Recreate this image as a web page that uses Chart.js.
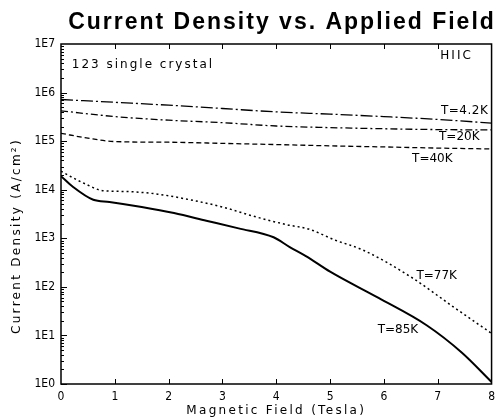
<!DOCTYPE html>
<html>
<head>
<meta charset="utf-8">
<script src="https://cdn.jsdelivr.net/npm/chart.js@4"></script>
<style>
  html, body { margin: 0; padding: 0; background: #fff; }
</style>
</head>
<body>
<canvas id="myChart" width="501" height="418"></canvas>
<script>
// magnetic field (tesla) and current density (A/cm2)
const field42 = [0, 1, 2, 3, 4, 5, 6, 7, 8];
const j42 = [7.2e5, 6.3e5, 5.5e5, 4.7e5, 4.0e5, 3.6e5, 3.2e5, 2.8e5, 2.35e5];

const field20 = [0, 1, 2, 3, 4, 5, 6, 7, 8];
const j20 = [4.2e5, 3.2e5, 2.7e5, 2.4e5, 2.05e5, 1.9e5, 1.8e5, 1.73e5, 1.7e5];

const field40 = [0, 0.5, 1, 2, 3, 4, 5, 6, 7, 8];
const j40 = [1.45e5, 1.15e5, 9.8e4, 9.5e4, 9.0e4, 8.5e4, 8.0e4, 7.6e4, 7.2e4, 6.9e4];

const field77 = [0, 0.4, 0.8, 1.2, 1.8, 2.4, 3.0, 3.6, 4.2, 4.6, 5.1, 5.6, 6.5, 7.3, 8];
const j77 = [2.4e4, 1.4e4, 9.5e3, 9.2e3, 8.1e3, 6.2e3, 4.4e3, 2.8e3, 1.9e3, 1.55e3, 910, 580, 160, 38, 11];

const field85 = [0, 0.22, 0.6, 0.9, 1.5, 2.1, 2.7, 3.3, 3.95, 4.25, 4.55, 5.0, 5.9, 6.8, 7.45, 8];
const j85 = [1.9e4, 1.15e4, 6.2e3, 5.6e3, 4.4e3, 3.3e3, 2.3e3, 1.6e3, 1.05e3, 660, 430, 205, 59, 16, 4.4, 1.1];

const decades = [1, 10, 100, 1e3, 1e4, 1e5, 1e6, 1e7];
const fieldTicks = [0, 1, 2, 3, 4, 5, 6, 7, 8];

// text written inside the plot: [text, field, density, align, letter spacing]
const notes = [
  ['123 single crystal', 0.2, 3.8e6, 'left', 2],
  ['HIIC', 7.35, 5.6e6, 'center', 2],
  ['T=4.2K', 7.5, 4.2e5, 'center', 0.5],
  ['T=20K', 7.4, 1.2e5, 'center', 0],
  ['T=40K', 6.9, 4.3e4, 'center', 0],
  ['T=77K', 6.98, 166, 'center', 0],
  ['T=85K', 6.26, 13, 'center', 0],
];

const pts = (xs, ys) => xs.map((v, i) => ({ x: v, y: ys[i] }));
const FONT = "'DejaVu Sans', sans-serif";
const TICKFONT = "'DejaVu Sans Condensed', 'DejaVu Sans', sans-serif";

const frameTicks = {
  id: 'frameTicks',
  afterDatasetsDraw(chart) {
    const { ctx, chartArea: a, scales: { x, y } } = chart;
    ctx.save();
    ctx.strokeStyle = '#000';
    ctx.lineWidth = 1.5;
    ctx.strokeRect(a.left, a.top, a.right - a.left, a.bottom - a.top);

    ctx.lineWidth = 1;
    ctx.beginPath();
    for (let k = 0; k < 7; k++) {
      for (let m = 1; m < 10; m++) {
        const py = Math.round(y.getPixelForValue(m * 10 ** k)) + 0.5;
        const len = m === 1 ? 6 : 3;
        ctx.moveTo(a.left, py);
        ctx.lineTo(a.left + len, py);
      }
    }
    fieldTicks.slice(1, -1).forEach(v => {
      const px = Math.round(x.getPixelForValue(v)) + 0.5;
      ctx.moveTo(px, a.bottom);
      ctx.lineTo(px, a.bottom - 5);
      ctx.moveTo(px, a.top);
      ctx.lineTo(px, a.top + 5);
    });
    ctx.stroke();

    ctx.fillStyle = '#000';
    ctx.font = '12px ' + FONT;
    ctx.textBaseline = 'middle';
    notes.forEach(([t, fx, fy, al, ls]) => {
      ctx.textAlign = al;
      ctx.letterSpacing = ls + 'px';
      ctx.fillText(t, x.getPixelForValue(fx), y.getPixelForValue(fy));
    });

    // axis titles, widely spaced like the original plotter font
    ctx.textAlign = 'center';
    ctx.letterSpacing = '2.3px';
    ctx.fillText('Magnetic Field (Tesla)', (a.left + a.right) / 2, chart.height - 7);
    ctx.save();
    ctx.translate(17, 236);
    ctx.rotate(-Math.PI / 2);
    ctx.fillText('Current Density (A/cm²)', 0, 0);
    ctx.restore();

    // chart title
    ctx.font = "bold 23px 'Liberation Sans', Arial, sans-serif";
    ctx.letterSpacing = '2px';
    ctx.fillText('Current Density vs. Applied Field', 282, 23);
    ctx.restore();
  }
};

const line = (label, xs, ys, dash, width) => ({
  label,
  data: pts(xs, ys),
  borderColor: '#000',
  borderWidth: width,
  borderDash: dash,
  pointRadius: 0,
  fill: false,
  cubicInterpolationMode: 'monotone',
});

new Chart(document.getElementById('myChart'), {
  type: 'line',
  data: {
    datasets: [
      line('T=4.2K', field42, j42, [12, 3, 2, 3], 1.3),
      line('T=20K', field20, j20, [7, 3, 2, 3], 1.3),
      line('T=40K', field40, j40, [5, 3], 1.3),
      line('T=77K', field77, j77, [2, 3], 1.5),
      line('T=85K', field85, j85, [], 2),
    ]
  },
  options: {
    responsive: false,
    animation: false,
    layout: { padding: { right: 3, left: 0, top: 44, bottom: 0 } },
    plugins: {
      legend: { display: false },
      tooltip: { enabled: false },
      title: { display: false },
    },
    scales: {
      x: {
        type: 'linear',
        min: 0,
        max: 8,
        grid: { display: false, tickLength: 0 },
        border: { display: false },
        afterBuildTicks: s => { s.ticks = fieldTicks.map(v => ({ value: v })); },
        afterFit: s => { s.height = 34; },
        ticks: { color: '#000', font: { size: 12, family: TICKFONT }, padding: 6, autoSkip: false, maxRotation: 0 },
      },
      y: {
        type: 'logarithmic',
        min: 1,
        max: 1e7,
        grid: { display: false, tickLength: 0 },
        border: { display: false },
        afterBuildTicks: s => { s.ticks = decades.map(v => ({ value: v })); },
        afterFit: s => { s.width = 61; },
        ticks: {
          color: '#000',
          font: { size: 12, family: TICKFONT },
          padding: 6,
          autoSkip: false,
          callback: v => '1E' + Math.round(Math.log10(v)),
        },
      },
    },
  },
  plugins: [frameTicks],
});
</script>
</body>
</html>
